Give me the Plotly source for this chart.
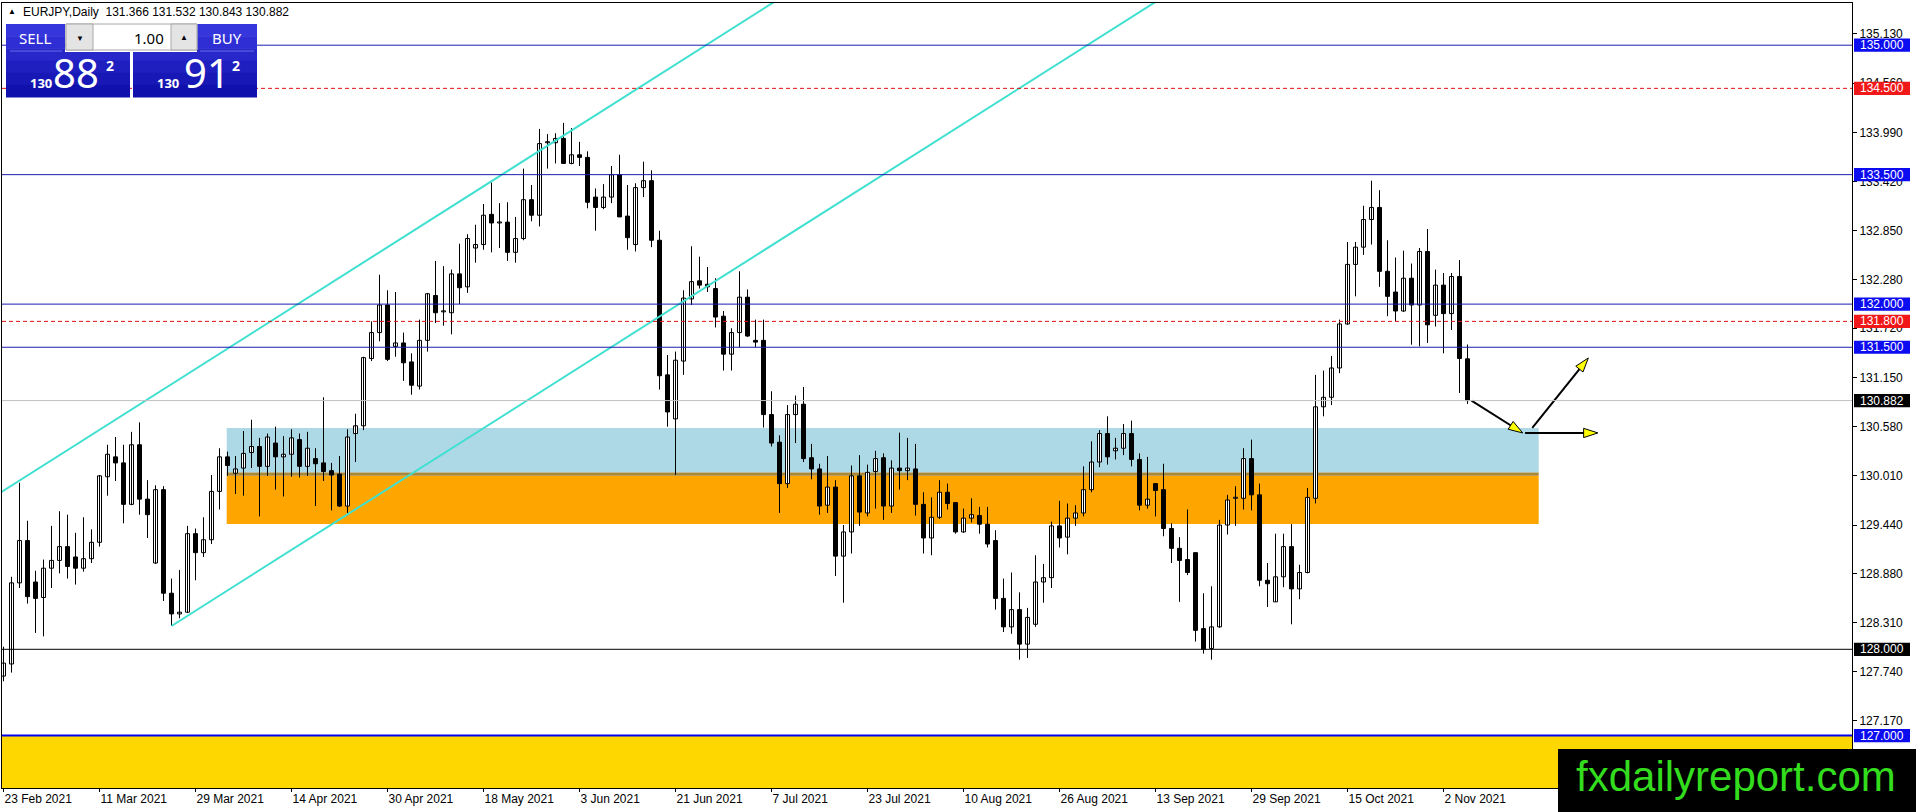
"""EURJPY daily chart, MT4 look, with support zones and projection arrows."""

import plotly.graph_objects as go

# page / plot area in screen pixels
W, H = 1916, 812
PLOT_L, PLOT_R, PLOT_T, PLOT_B = 2, 1852, 3, 788
BAR_PX = 8  # one daily bar every 8 px

# ---- chart data ----
DATE_LABELS = [
    "23 Feb 2021", "11 Mar 2021", "29 Mar 2021", "14 Apr 2021", "30 Apr 2021",
    "18 May 2021", "3 Jun 2021", "21 Jun 2021", "7 Jul 2021", "23 Jul 2021",
    "10 Aug 2021", "26 Aug 2021", "13 Sep 2021", "29 Sep 2021", "15 Oct 2021",
    "2 Nov 2021",
]
DATE_TICK_BARS = [0, 12, 24, 36, 48, 60, 72, 84, 96, 108, 120, 132, 144, 156, 168, 180]

OPEN = [
    127.69, 127.83, 128.77, 129.26, 128.78, 128.60, 128.94, 129.03, 129.19, 129.07,
    128.94, 129.05, 129.24, 130.00, 130.23, 130.16, 129.68, 130.37, 129.74, 129.00,
    129.85, 128.65, 128.41, 128.43, 129.34, 129.12, 129.27, 129.83, 130.23, 130.04,
    130.10, 130.28, 130.35, 130.12, 130.39, 130.23, 130.26, 130.43, 130.12, 130.21,
    130.16, 130.07, 130.03, 129.66, 130.50, 130.59, 131.37, 131.67, 131.99, 131.51,
    131.55, 131.33, 131.05, 131.58, 132.10, 131.91, 131.90, 132.35, 132.20, 132.65,
    132.69, 133.04, 132.94, 132.95, 132.60, 132.76, 133.21, 133.03, 133.87, 133.87,
    133.92, 133.63, 133.73, 133.70, 133.24, 133.12, 133.24, 133.50, 133.02, 132.69,
    133.35, 133.43, 132.74, 131.18, 130.67, 131.34, 132.06, 132.27, 132.23, 132.18,
    131.86, 131.42, 131.67, 132.08, 131.58, 131.58, 130.72, 130.40, 129.92, 130.72,
    130.84, 130.22, 130.09, 129.67, 129.88, 129.08, 129.36, 130.01, 129.58, 130.06,
    130.22, 129.66, 130.10, 130.07, 130.09, 129.68, 129.29, 129.53, 129.82, 129.70,
    129.36, 129.52, 129.55, 129.45, 129.26, 128.59, 128.26, 128.46, 128.06, 128.29,
    128.78, 128.83, 129.43, 129.30, 129.52, 129.58, 129.85, 130.17, 130.50, 130.30,
    130.33, 130.50, 130.20, 129.67, 129.92, 129.85, 129.40, 129.17, 129.04, 129.12,
    128.24, 128.01, 128.26, 129.44, 129.75, 129.75, 130.21, 129.79, 128.80, 128.55,
    128.84, 129.19, 128.70, 128.89, 129.75, 130.81, 130.92, 131.26, 131.77, 132.46,
    132.66, 132.98, 133.12, 132.38, 132.14, 131.92, 132.30, 131.99, 132.61, 131.87,
    132.22, 131.89, 132.32, 131.366,
]
HIGH = [
    128.03, 128.84, 129.93, 129.49, 128.91, 129.04, 129.43, 129.60, 129.56, 129.35,
    129.53, 129.39, 130.02, 130.37, 130.46, 130.37, 130.52, 130.63, 129.96, 129.90,
    129.89, 128.82, 128.92, 129.43, 129.40, 129.53, 130.02, 130.33, 130.29, 130.24,
    130.53, 130.66, 130.45, 130.50, 130.58, 130.47, 130.55, 130.50, 130.52, 130.33,
    130.92, 130.16, 130.24, 130.55, 130.73, 131.39, 131.80, 132.34, 132.16, 132.14,
    131.67, 131.43, 131.82, 132.13, 132.50, 132.44, 132.40, 132.70, 132.81, 132.92,
    133.16, 133.41, 133.17, 133.18, 133.01, 133.57, 133.38, 134.03, 133.97, 133.98,
    134.10, 134.04, 133.88, 133.77, 133.34, 133.39, 133.60, 133.73, 133.38, 133.40,
    133.65, 133.55, 132.85, 131.41, 131.45, 132.16, 132.67, 132.55, 132.43, 132.30,
    131.92, 131.72, 132.38, 132.17, 131.82, 131.82, 130.99, 130.48, 130.83, 130.94,
    131.04, 130.38, 130.15, 130.24, 129.96, 129.44, 130.13, 130.25, 130.14, 130.30,
    130.27, 130.19, 130.51, 130.45, 130.38, 129.82, 129.76, 129.96, 129.92, 129.70,
    129.63, 129.75, 129.65, 129.65, 129.38, 128.82, 128.89, 128.66, 128.48, 129.09,
    128.99, 129.48, 129.72, 129.69, 129.67, 130.12, 130.41, 130.54, 130.70, 130.45,
    130.61, 130.65, 130.27, 130.23, 129.92, 130.15, 129.46, 129.30, 129.62, 129.12,
    128.65, 128.73, 129.50, 129.79, 129.89, 130.33, 130.43, 129.92, 129.00, 129.34,
    129.34, 129.45, 128.98, 129.87, 131.18, 131.23, 131.40, 131.82, 132.72, 132.72,
    133.14, 133.43, 133.32, 132.74, 132.54, 132.62, 132.47, 132.65, 132.87, 132.40,
    132.36, 132.36, 132.51, 131.532,
]
LOW = [
    127.63, 127.73, 128.71, 128.53, 128.19, 128.15, 128.71, 128.88, 128.82, 128.75,
    128.90, 129.00, 129.19, 129.78, 129.95, 129.46, 129.67, 129.56, 129.29, 128.99,
    128.56, 128.27, 128.36, 128.42, 128.80, 129.07, 129.22, 129.62, 130.01, 129.80,
    129.78, 130.10, 129.54, 130.01, 129.85, 129.77, 130.00, 129.99, 130.01, 129.66,
    129.95, 129.61, 129.65, 129.58, 130.17, 130.54, 131.34, 131.57, 131.34, 131.39,
    131.11, 130.95, 131.01, 131.45, 131.78, 131.75, 131.65, 132.00, 132.13, 132.48,
    132.63, 132.60, 132.65, 132.50, 132.48, 132.74, 132.96, 132.90, 133.57, 133.63,
    133.63, 133.62, 133.60, 133.11, 132.85, 133.10, 133.17, 133.01, 132.63, 132.61,
    133.24, 132.66, 131.01, 130.58, 130.02, 131.18, 131.99, 132.18, 132.14, 131.73,
    131.23, 131.23, 131.50, 131.62, 131.50, 130.57, 130.35, 129.58, 129.87, 130.39,
    130.17, 129.97, 129.56, 129.58, 128.85, 128.54, 129.11, 129.43, 129.54, 129.63,
    129.50, 129.58, 129.85, 129.96, 129.55, 129.11, 129.09, 129.51, 129.62, 129.34,
    129.35, 129.47, 129.34, 129.18, 128.46, 128.20, 128.18, 127.88, 127.90, 128.26,
    128.54, 128.71, 129.18, 129.10, 129.43, 129.54, 129.82, 130.11, 130.14, 130.20,
    130.25, 130.12, 129.61, 129.63, 129.54, 129.31, 129.00, 128.55, 128.86, 128.09,
    127.95, 127.88, 128.25, 129.33, 129.43, 129.62, 129.61, 128.73, 128.49, 128.55,
    128.72, 128.29, 128.58, 128.88, 129.69, 130.70, 130.83, 131.20, 131.76, 132.09,
    132.57, 132.69, 132.20, 131.86, 131.80, 131.91, 131.53, 131.51, 131.55, 131.74,
    131.43, 131.70, 130.97, 130.843,
]
CLOSE = [
    127.84, 128.77, 129.26, 128.61, 128.59, 128.94, 129.03, 129.19, 128.96, 128.94,
    129.05, 129.24, 130.01, 130.26, 130.16, 129.68, 130.37, 129.74, 129.56, 129.85,
    128.65, 128.41, 128.43, 129.34, 129.12, 129.27, 129.83, 130.23, 130.13, 130.09,
    130.27, 130.35, 130.12, 130.46, 130.23, 130.26, 130.45, 130.12, 130.33, 130.15,
    130.06, 130.02, 129.66, 130.46, 130.59, 131.38, 131.67, 131.99, 131.36, 131.55,
    131.32, 131.06, 131.58, 132.12, 131.90, 131.92, 132.35, 132.19, 132.76, 132.69,
    133.03, 132.94, 132.95, 132.60, 132.76, 133.21, 133.03, 133.86, 133.88, 133.92,
    133.63, 133.73, 133.70, 133.18, 133.12, 133.24, 133.50, 133.01, 132.77, 133.35,
    133.43, 132.74, 131.17, 130.75, 131.35, 132.07, 132.26, 132.22, 132.20, 131.85,
    131.42, 131.67, 132.08, 131.63, 131.56, 130.72, 130.39, 129.92, 130.72, 130.84,
    130.21, 130.09, 129.66, 129.88, 129.08, 129.36, 130.01, 129.59, 130.05, 130.21,
    129.66, 130.10, 130.07, 130.10, 129.68, 129.29, 129.53, 129.82, 129.69, 129.36,
    129.52, 129.56, 129.45, 129.22, 128.59, 128.26, 128.46, 128.06, 128.37, 128.78,
    128.83, 129.43, 129.29, 129.52, 129.58, 129.85, 130.17, 130.50, 130.23, 130.33,
    130.50, 130.20, 129.67, 129.74, 129.84, 129.40, 129.17, 129.03, 128.89, 128.22,
    128.00, 128.26, 129.44, 129.73, 129.75, 130.21, 129.79, 128.80, 128.76, 128.84,
    129.19, 128.70, 128.89, 129.76, 130.81, 130.92, 131.26, 131.77, 132.46, 132.66,
    132.98, 133.12, 132.38, 132.09, 131.92, 132.30, 131.99, 132.61, 131.76, 132.22,
    131.89, 132.32, 131.37, 130.882,
]

PRICE_TICKS = [135.13, 134.56, 133.99, 133.42, 132.85, 132.28, 131.72, 131.15,
               130.58, 130.01, 129.44, 128.88, 128.31, 127.74, 127.17]

# horizontal levels
BLUE_LEVELS = [135.0, 133.5, 132.0, 131.5]
RED_LEVELS = [134.5, 131.8]
BLACK_LEVEL = 128.0
BOTTOM_LEVEL = 127.0
BID_PRICE = 130.882
TAG_PRICES = [135.0, 134.5, 133.5, 132.0, 131.8, 131.5, 130.882, 128.0, 127.0]
TAG_COLORS = ["#0C0CF0", "#F01818", "#0C0CF0", "#0C0CF0", "#F01818", "#0C0CF0",
              "#000000", "#000000", "#0C0CF0"]

# zones (bar range + price range)
ZONE_BARS = [27.9, 191.9]
BLUE_ZONE = [130.05, 130.565]
ZONE_EDGE = [130.01, 130.05]
ORANGE_ZONE = [129.452, 130.01]

# channel trend lines (bar, price)
UPPER_CHANNEL = [(-2, 129.72), (120, 136.893)]
LOWER_CHANNEL = [(21, 128.27), (150, 135.854)]

# projection arrows (start, tip) in (bar, price)
ARROWS = [
    ((183.5, 130.882), (189.9, 130.507)),
    ((190.2, 130.507), (199.3, 130.507)),
    ((191.1, 130.565), (198.1, 131.376)),
]

# ---- axis ranges from pixel geometry ----
X0 = -0.1875
X1 = X0 + (PLOT_R - PLOT_L) / BAR_PX
Y1 = 135.489
Y0 = 126.393


def pxx(x):
    return (x - PLOT_L) / (PLOT_R - PLOT_L)


def pxy(y):
    return (PLOT_B - y) / (PLOT_B - PLOT_T)


def prect(x0, y0, x1, y1, fill, line=None, lw=0):
    return dict(type="rect", xref="paper", yref="paper", layer="above",
                x0=pxx(x0), x1=pxx(x1), y0=pxy(y1), y1=pxy(y0),
                fillcolor=fill, line=dict(color=line or fill, width=lw))


def ptext(x, y, text, size, color="white", xanchor="center", family="Noto Sans"):
    return dict(xref="paper", yref="paper", x=pxx(x), y=pxy(y), text=text,
                showarrow=False, xanchor=xanchor, yanchor="middle",
                font=dict(family=family, size=size, color=color))


fig = go.Figure()

# candle wicks
wick_x, wick_y = [], []
for i in range(len(OPEN)):
    wick_x += [i, i, None]
    wick_y += [LOW[i], HIGH[i], None]
fig.add_trace(go.Scatter(x=wick_x, y=wick_y, mode="lines",
                         line=dict(color="black", width=1), hoverinfo="skip"))

# candle bodies
bases = [min(o, c) for o, c in zip(OPEN, CLOSE)]
heights = [max(abs(c - o), 0.012) for o, c in zip(OPEN, CLOSE)]
colors = ["white" if c >= o else "black" for o, c in zip(OPEN, CLOSE)]
fig.add_trace(go.Bar(x=list(range(len(OPEN))), y=heights, base=bases, width=0.5,
                     marker=dict(color=colors, line=dict(color="black", width=1)),
                     hoverinfo="skip"))

# channel lines
for pts in (UPPER_CHANNEL, LOWER_CHANNEL):
    fig.add_trace(go.Scatter(x=[p[0] for p in pts], y=[p[1] for p in pts], mode="lines",
                             line=dict(color="#40E0D0", width=2), hoverinfo="skip"))

# arrows with yellow heads
for start, tip in ARROWS:
    fig.add_trace(go.Scatter(
        x=[start[0], tip[0]], y=[start[1], tip[1]], mode="lines+markers",
        line=dict(color="black", width=2),
        marker=dict(symbol="arrow", size=15, angleref="previous", color="#FFFF00",
                    line=dict(color="black", width=1)),
        hoverinfo="skip"))

shapes = []
# background zones
shapes.append(dict(type="rect", xref="x", yref="y", layer="below",
                   x0=ZONE_BARS[0], x1=ZONE_BARS[1], y0=BLUE_ZONE[0], y1=BLUE_ZONE[1],
                   fillcolor="#ADD8E6", line=dict(width=0)))
shapes.append(dict(type="rect", xref="x", yref="y", layer="below",
                   x0=ZONE_BARS[0], x1=ZONE_BARS[1], y0=ORANGE_ZONE[0], y1=ORANGE_ZONE[1],
                   fillcolor="#FFA500", line=dict(width=0)))
shapes.append(dict(type="rect", xref="x", yref="y", layer="below",
                   x0=ZONE_BARS[0], x1=ZONE_BARS[1], y0=ZONE_EDGE[0], y1=ZONE_EDGE[1],
                   fillcolor="#A8883A", line=dict(width=0)))
shapes.append(dict(type="rect", xref="x", yref="y", layer="below",
                   x0=X0 - 5, x1=X1 + 5, y0=Y0 - 2, y1=BOTTOM_LEVEL,
                   fillcolor="#FFD700", line=dict(width=0)))


# horizontal levels
def hline(price, color, width=1, dash="solid"):
    return dict(type="line", xref="paper", yref="y", layer="above", x0=0, x1=1,
                y0=price, y1=price, line=dict(color=color, width=width, dash=dash))


for p in BLUE_LEVELS:
    shapes.append(hline(p, "#1C1CB0"))
for p in RED_LEVELS:
    shapes.append(hline(p, "#E01010", dash="4px,3px"))
shapes.append(hline(BLACK_LEVEL, "black"))
shapes.append(hline(BID_PRICE, "#C0C0C0"))
shapes.append(hline(BOTTOM_LEVEL, "#0000F0", width=2))

annotations = []
# price tags on the right scale
tag_h = 6.6 / 86.3
for p, c in zip(TAG_PRICES, TAG_COLORS):
    shapes.append(dict(type="rect", xref="paper", yref="y", layer="above",
                       x0=pxx(1854), x1=pxx(1910), y0=p - tag_h, y1=p + tag_h,
                       fillcolor=c, line=dict(width=0)))
    annotations.append(dict(xref="paper", yref="y", x=pxx(1882), y=p, text=f"{p:.3f}",
                            showarrow=False, xanchor="center", yanchor="middle",
                            font=dict(family="Liberation Sans", size=12, color="white")))

# one-click trading panel
top_c, bot_c = (58, 58, 226), (12, 12, 168)
n_bands = 6
for k in range(n_bands):
    t = (k + 0.5) / n_bands
    col = "rgb({},{},{})".format(*[round(a + (b - a) * t) for a, b in zip(top_c, bot_c)])
    y_a = 24 + (97 - 24) * k / n_bands
    y_b = 24 + (97 - 24) * (k + 1) / n_bands + 0.5
    if y_b <= 52.5:
        shapes.append(prect(6, y_a, 65, y_b, col))
        shapes.append(prect(197, y_a, 257, y_b, col))
    elif y_a >= 52:
        shapes.append(prect(6, y_a, 130, y_b, col))
        shapes.append(prect(133, y_a, 257, y_b, col))
    else:
        shapes.append(prect(6, y_a, 65, 52, col))
        shapes.append(prect(197, y_a, 257, 52, col))
        shapes.append(prect(6, 52, 130, y_b, col))
        shapes.append(prect(133, 52, 257, y_b, col))
shapes.append(prect(10, 50.5, 62, 51.5, "#6A6AEA"))
shapes.append(prect(200, 50.5, 254, 51.5, "#6A6AEA"))
shapes.append(prect(66, 24, 197, 50, "white", line="#A8A8A8", lw=1))
shapes.append(prect(66, 24, 93, 50, "#E4E4E4", line="#A8A8A8", lw=1))
shapes.append(prect(171, 24, 197, 50, "#E4E4E4", line="#A8A8A8", lw=1))

annotations += [
    ptext(35, 38, "SELL", 15),
    ptext(227, 38, "BUY", 15),
    ptext(166, 38, "1.00", 15, color="black", xanchor="right"),
    ptext(80, 38, "▼", 8, color="black"),
    ptext(184, 37, "▲", 8, color="black"),
    ptext(41, 83, "<b>130</b>", 13),
    ptext(76, 73, "88", 40),
    ptext(110, 66, "<b>2</b>", 14),
    ptext(168, 83, "<b>130</b>", 13),
    ptext(207, 73, "91", 40),
    ptext(236, 66, "<b>2</b>", 14),
    ptext(6, 12, "▲", 8, color="black", xanchor="left", family="Liberation Sans"),
    ptext(21, 12, "EURJPY,Daily\u00a0\u00a0131.366 131.532 130.843 130.882", 12,
          color="black", xanchor="left", family="Liberation Sans"),
]

# watermark
shapes.append(prect(1558, 749, 1930, 830, "black"))
annotations.append(ptext(1736, 776, "fxdailyreport.com", 42, color="#33DD1E",
                         family="Liberation Sans"))

fig.update_layout(
    width=W, height=H,
    margin=dict(l=PLOT_L, r=W - PLOT_R, t=PLOT_T, b=H - PLOT_B, autoexpand=False),
    paper_bgcolor="white", plot_bgcolor="white",
    showlegend=False, hovermode=False, dragmode=False,
    font=dict(family="Liberation Sans", size=12, color="black"),
    xaxis=dict(range=[X0, X1], tickvals=DATE_TICK_BARS, ticktext=DATE_LABELS,
               ticks="outside", ticklen=3, tickcolor="black",
               ticklabelposition="outside right", showgrid=False, zeroline=False,
               showline=True, mirror=True, linecolor="black", linewidth=1,
               fixedrange=True),
    yaxis=dict(range=[Y0, Y1], side="right", tickvals=PRICE_TICKS,
               ticktext=[f"{v:.3f}" for v in PRICE_TICKS],
               ticks="outside", ticklen=4, tickcolor="black", showgrid=False,
               zeroline=False, showline=True, mirror=True, linecolor="black",
               linewidth=1, fixedrange=True),
    shapes=shapes,
    annotations=annotations,
)

fig.write_html("out.html", config={"displayModeBar": False},
               post_script="document.body.style.margin='0';"
                           "document.body.style.overflow='hidden';")
